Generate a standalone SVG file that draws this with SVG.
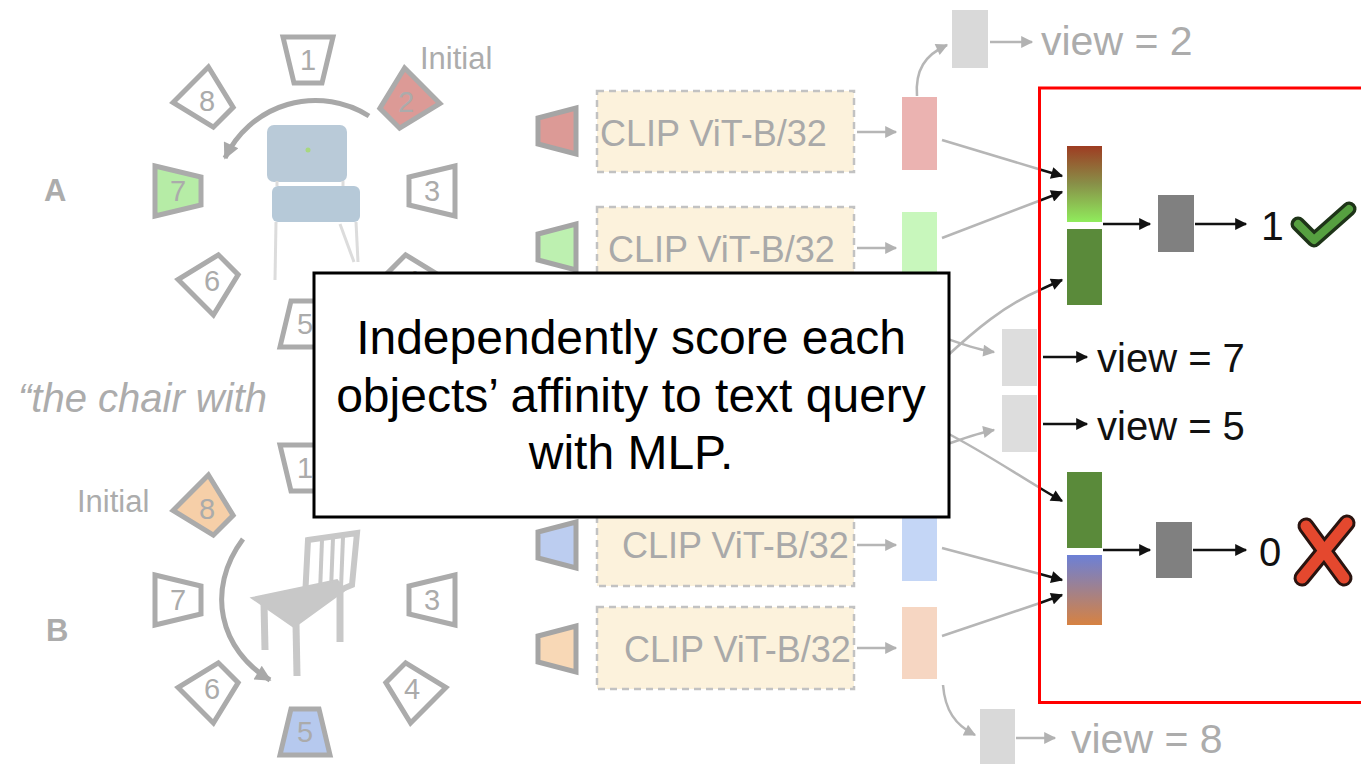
<svg xmlns="http://www.w3.org/2000/svg" width="1361" height="764" viewBox="0 0 1361 764">
  <style>
    .cam { fill: #ffffff; stroke: #ababab; stroke-width: 5; stroke-linejoin: miter; }
    .num { font-family: "Liberation Sans", Arial, sans-serif; font-size: 29px; fill: #ababab; text-anchor: middle; }
    .faint { font-family: "Liberation Sans", Arial, sans-serif; fill: #acacac; }
    .clipbox { fill: #fcf2dc; stroke: #c2c2c2; stroke-width: 2.5; stroke-dasharray: 7 5; }
    .cliptxt { font-family: "Liberation Sans", Arial, sans-serif; font-size: 36px; fill: #a9a9a9; }
    .gline { fill: none; stroke: #b6b6b6; stroke-width: 2.5; }
    .bline { fill: none; stroke: #111111; stroke-width: 2.5; }
    .dark { font-family: "Liberation Sans", Arial, sans-serif; fill: #111111; }
    .cap { font-family: "Liberation Sans", Arial, sans-serif; font-size: 48px; fill: #000000; text-anchor: middle; }
  </style>
  <defs>
    <marker id="ahB" viewBox="0 0 10 10" refX="9" refY="5" markerUnits="userSpaceOnUse" markerWidth="14" markerHeight="12" orient="auto">
      <path d="M0,0 L10,5 L0,10 z" fill="#111111"/>
    </marker>
    <marker id="ahG" viewBox="0 0 10 10" refX="9" refY="5" markerUnits="userSpaceOnUse" markerWidth="14" markerHeight="12" orient="auto">
      <path d="M0,0 L10,5 L0,10 z" fill="#b2b2b2"/>
    </marker>
    <marker id="ahGL" viewBox="0 0 10 10" refX="9" refY="5" markerUnits="userSpaceOnUse" markerWidth="18" markerHeight="16" orient="auto">
      <path d="M0,0 L10,5 L0,10 z" fill="#a8a8a8"/>
    </marker>
    <linearGradient id="gradA" x1="0" y1="0" x2="0" y2="1">
      <stop offset="0" stop-color="#9e3c22"/>
      <stop offset="0.5" stop-color="#889048"/>
      <stop offset="1" stop-color="#90ec5c"/>
    </linearGradient>
    <linearGradient id="gradB" x1="0" y1="0" x2="0" y2="1">
      <stop offset="0" stop-color="#6c80d6"/>
      <stop offset="1" stop-color="#d68242"/>
    </linearGradient>
    <!-- camera frustum: wide side faces away from the object -->
    <polygon id="cam" points="-25,-23 25,-23 14,23 -14,23"/>
  </defs>

  <rect width="1361" height="764" fill="#ffffff"/>

  <!-- object A -->
  <g id="objectA">
    <text class="faint" x="44" y="201" font-size="31" font-weight="bold">A</text>
    <text class="faint" x="420" y="69" font-size="31">Initial</text>
    <!-- chair -->
    <g>
      <rect x="267" y="125" width="80" height="57" rx="7" fill="#b9cad8"/>
      <rect x="272" y="186" width="88" height="36" rx="6" fill="#b6c9d8"/>
      <line x1="276" y1="222" x2="275" y2="280" stroke="#dcdcdc" stroke-width="3"/>
      <line x1="356" y1="222" x2="358" y2="262" stroke="#dcdcdc" stroke-width="3"/>
      <line x1="340" y1="224" x2="354" y2="262" stroke="#dcdcdc" stroke-width="3"/>
      <line x1="277" y1="181" x2="277" y2="186" stroke="#dcdcdc" stroke-width="3"/>
      <line x1="343" y1="181" x2="343" y2="186" stroke="#dcdcdc" stroke-width="3"/>
    </g>
    <circle cx="308" cy="150" r="2.5" fill="#a8d880"/>
    <!-- rotation arrow -->
    <path d="M369,116 A100,100 0 0 0 225,158" fill="none" stroke="#a8a8a8" stroke-width="5" marker-end="url(#ahGL)"/>
    <!-- cameras -->
    <g transform="translate(308,60)"><use href="#cam" class="cam"/><text class="num" y="10">1</text></g>
    <g transform="translate(406,102)"><use href="#cam" class="cam" transform="rotate(45)" style="fill:#dc9a96"/><text class="num" y="10" fill="#c77a75">2</text></g>
    <g transform="translate(432,191)"><use href="#cam" class="cam" transform="rotate(90)"/><text class="num" y="10">3</text></g>
    <g transform="translate(412,281)"><use href="#cam" class="cam" transform="rotate(135)"/><text class="num" y="10">4</text></g>
    <g transform="translate(305,324)"><use href="#cam" class="cam" transform="rotate(180)"/><text class="num" y="10">5</text></g>
    <g transform="translate(212,281)"><use href="#cam" class="cam" transform="rotate(-135)"/><text class="num" y="10">6</text></g>
    <g transform="translate(178,191)"><use href="#cam" class="cam" transform="rotate(-90)" style="fill:#b6eca6"/><text class="num" y="10">7</text></g>
    <g transform="translate(207,101)"><use href="#cam" class="cam" transform="rotate(-45)"/><text class="num" y="10">8</text></g>
  </g>

  <!-- query -->
  <g id="query">
    <text class="faint" x="18" y="412" font-size="40" font-style="italic">“the chair with</text>
  </g>

  <!-- object B -->
  <g id="objectB">
    <text class="faint" x="46" y="641" font-size="31" font-weight="bold">B</text>
    <text class="faint" x="77" y="512" font-size="31">Initial</text>
    <!-- chair -->
    <g fill="#c8c8c8" stroke="#c8c8c8">
      <path d="M308,540 L357,533 L352,585 L340,590 L305,598 Z" fill="none" stroke-width="6"/>
      <line x1="322" y1="540" x2="320" y2="592" stroke-width="4"/>
      <line x1="333" y1="538" x2="331" y2="590" stroke-width="4"/>
      <line x1="343" y1="537" x2="341" y2="588" stroke-width="4"/>
      <path d="M252,598 L337,580 L345,590 L294,627 Z" stroke-width="2"/>
      <line x1="264" y1="603" x2="265" y2="650" stroke-width="7"/>
      <line x1="296" y1="624" x2="297" y2="676" stroke-width="7"/>
      <line x1="340" y1="590" x2="340" y2="642" stroke-width="7"/>
    </g>
    <!-- rotation arrow -->
    <path d="M243,539 C205,590 220,650 270,680" fill="none" stroke="#a8a8a8" stroke-width="5" marker-end="url(#ahGL)"/>
    <!-- cameras -->
    <g transform="translate(305,468)"><use href="#cam" class="cam"/><text class="num" y="10">1</text></g>
    <g transform="translate(432,600)"><use href="#cam" class="cam" transform="rotate(90)"/><text class="num" y="10">3</text></g>
    <g transform="translate(412,689)"><use href="#cam" class="cam" transform="rotate(135)"/><text class="num" y="10">4</text></g>
    <g transform="translate(305,732)"><use href="#cam" class="cam" transform="rotate(180)" style="fill:#b6c9ee"/><text class="num" y="10" fill="#8a9cc8">5</text></g>
    <g transform="translate(212,689)"><use href="#cam" class="cam" transform="rotate(-135)"/><text class="num" y="10">6</text></g>
    <g transform="translate(178,600)"><use href="#cam" class="cam" transform="rotate(-90)"/><text class="num" y="10">7</text></g>
    <g transform="translate(207,509)"><use href="#cam" class="cam" transform="rotate(-45)" style="fill:#f6cfa8"/><text class="num" y="10" fill="#d0a078">8</text></g>
  </g>

  <!-- image encoders -->
  <g id="encoder1">
    <polygon points="538,118 576,108 576,154 538,144" fill="#dc9a96" stroke="#a5a5a5" stroke-width="5"/>
    <rect class="clipbox" x="597" y="91" width="257" height="81"/>
    <text class="cliptxt" x="600" y="146">CLIP ViT-B/32</text>
    <rect x="902" y="97" width="35" height="73" fill="#ebb3b1"/>
  </g>
  <g id="encoder2">
    <polygon points="538,234 576,224 576,270 538,260" fill="#bdf0b0" stroke="#a5a5a5" stroke-width="5"/>
    <rect class="clipbox" x="597" y="207" width="257" height="82"/>
    <text class="cliptxt" x="608" y="262">CLIP ViT-B/32</text>
    <rect x="902" y="212" width="35" height="73" fill="#c8f7bc"/>
  </g>
  <g id="encoder3">
    <polygon points="538,532 576,522 576,568 538,558" fill="#bccdf0" stroke="#a5a5a5" stroke-width="5"/>
    <rect class="clipbox" x="597" y="503" width="257" height="83"/>
    <text class="cliptxt" x="622" y="558">CLIP ViT-B/32</text>
    <rect x="902" y="508" width="35" height="73" fill="#c4d6f6"/>
  </g>
  <g id="encoder4">
    <polygon points="538,636 576,626 576,672 538,662" fill="#f8d8b6" stroke="#a5a5a5" stroke-width="5"/>
    <rect class="clipbox" x="597" y="607" width="257" height="82"/>
    <text class="cliptxt" x="624" y="662">CLIP ViT-B/32</text>
    <rect x="902" y="607" width="35" height="72" fill="#f6d6c2"/>
  </g>

  <!-- discarded / intermediate view features -->
  <g id="view2">
    <rect x="952" y="10" width="36" height="58" fill="#d9d9d9"/>
    <text class="faint" x="1041" y="55" font-size="41" fill="#b4b4b4">view = 2</text>
  </g>
  <g id="view8">
    <rect x="980" y="709" width="35" height="60" fill="#d9d9d9"/>
    <text class="faint" x="1071" y="753" font-size="41" fill="#b4b4b4">view = 8</text>
  </g>
  <g id="view7">
    <rect x="1002" y="329" width="35" height="57" fill="#dddddd"/>
    <text class="dark" x="1097" y="372" font-size="40">view = 7</text>
  </g>
  <g id="view5">
    <rect x="1002" y="395" width="35" height="57" fill="#dddddd"/>
    <text class="dark" x="1097" y="440" font-size="40">view = 5</text>
  </g>

  <!-- fused features and MLP -->
  <g id="pairA">
    <rect x="1067" y="146" width="35" height="76" fill="url(#gradA)"/>
    <rect x="1067" y="229" width="35" height="76" fill="#5a8a3a"/>
    <rect x="1158" y="195" width="36" height="57" fill="#808080"/>
    <text class="dark" x="1261" y="240" font-size="41">1</text>
    <polyline points="1298,224 1314,240 1349,209" fill="none" stroke="#1e3418" stroke-width="15" stroke-linejoin="round" stroke-linecap="round"/>
    <polyline points="1298,224 1314,240 1349,209" fill="none" stroke="#56a040" stroke-width="8" stroke-linejoin="round" stroke-linecap="round"/>
  </g>
  <g id="pairB">
    <rect x="1067" y="472" width="35" height="76" fill="#5a8a3a"/>
    <rect x="1067" y="555" width="35" height="70" fill="url(#gradB)"/>
    <rect x="1156" y="522" width="36" height="56" fill="#808080"/>
    <text class="dark" x="1259" y="566" font-size="40">0</text>
    <g stroke-linecap="round">
      <line x1="1306" y1="526" x2="1344" y2="578" stroke="#2a1410" stroke-width="17"/>
      <line x1="1347" y1="523" x2="1302" y2="578" stroke="#2a1410" stroke-width="17"/>
      <line x1="1306" y1="526" x2="1344" y2="578" stroke="#e4482e" stroke-width="11"/>
      <line x1="1347" y1="523" x2="1302" y2="578" stroke="#e4482e" stroke-width="11"/>
    </g>
  </g>

  <!-- connectors -->
  <g id="connectors">
    <!-- encoder to feature -->
    <line class="gline" x1="857" y1="132" x2="896" y2="132" marker-end="url(#ahG)"/>
    <line class="gline" x1="857" y1="248" x2="896" y2="248" marker-end="url(#ahG)"/>
    <line class="gline" x1="857" y1="545" x2="896" y2="545" marker-end="url(#ahG)"/>
    <line class="gline" x1="857" y1="648" x2="896" y2="648" marker-end="url(#ahG)"/>
    <!-- dropped views -->
    <path class="gline" d="M917,96 C915,70 925,55 947,45" marker-end="url(#ahG)"/>
    <line class="gline" x1="990" y1="42" x2="1032" y2="42" marker-end="url(#ahG)"/>
    <path class="gline" d="M943,685 C945,710 955,725 975,735" marker-end="url(#ahG)"/>
    <line class="gline" x1="1016" y1="738" x2="1055" y2="738" marker-end="url(#ahG)"/>
    <path class="gline" d="M945,338 C965,345 978,350 994,352" marker-end="url(#ahG)"/>
    <path class="gline" d="M945,445 C965,438 978,433 994,430" marker-end="url(#ahG)"/>
    <!-- features into pairs: faded outside, solid inside -->
    <line class="gline" x1="942" y1="140" x2="1040" y2="169.5"/>
    <line class="bline" x1="1040" y1="169.5" x2="1062" y2="176" marker-end="url(#ahB)"/>
    <line class="gline" x1="942" y1="238" x2="1040" y2="200.5"/>
    <line class="bline" x1="1040" y1="200.5" x2="1062" y2="192" marker-end="url(#ahB)"/>
    <path class="gline" d="M945,358 C975,330 1005,305 1040,290"/>
    <path class="bline" d="M1040,290 C1048,286 1055,283 1062,280" marker-end="url(#ahB)"/>
    <path class="gline" d="M945,432 C980,450 1010,470 1040,488"/>
    <path class="bline" d="M1040,488 C1048,493 1055,497 1062,501" marker-end="url(#ahB)"/>
    <line class="gline" x1="942" y1="548" x2="1040" y2="574"/>
    <line class="bline" x1="1040" y1="574" x2="1062" y2="580" marker-end="url(#ahB)"/>
    <line class="gline" x1="942" y1="636" x2="1040" y2="603"/>
    <line class="bline" x1="1040" y1="603" x2="1062" y2="595" marker-end="url(#ahB)"/>
    <!-- view outputs -->
    <line class="bline" x1="1043" y1="357" x2="1087" y2="357" marker-end="url(#ahB)"/>
    <line class="bline" x1="1043" y1="424" x2="1087" y2="424" marker-end="url(#ahB)"/>
    <!-- pair to MLP to score -->
    <line class="bline" x1="1103" y1="224" x2="1150" y2="224" marker-end="url(#ahB)"/>
    <line class="bline" x1="1195" y1="224" x2="1246" y2="224" marker-end="url(#ahB)"/>
    <line class="bline" x1="1103" y1="550" x2="1150" y2="550" marker-end="url(#ahB)"/>
    <line class="bline" x1="1193" y1="550" x2="1246" y2="550" marker-end="url(#ahB)"/>
  </g>

  <!-- highlighted region -->
  <rect id="highlight" x="1039.5" y="88" width="330" height="614.5" fill="none" stroke="#ff0000" stroke-width="3"/>

  <!-- callout -->
  <g id="callout">
    <rect x="314" y="273" width="635" height="244" fill="#ffffff" stroke="#000000" stroke-width="3"/>
    <text class="cap" x="631" y="354">Independently score each</text>
    <text class="cap" x="631" y="412">objects’ affinity to text query</text>
    <text class="cap" x="631" y="469">with MLP.</text>
  </g>
</svg>
